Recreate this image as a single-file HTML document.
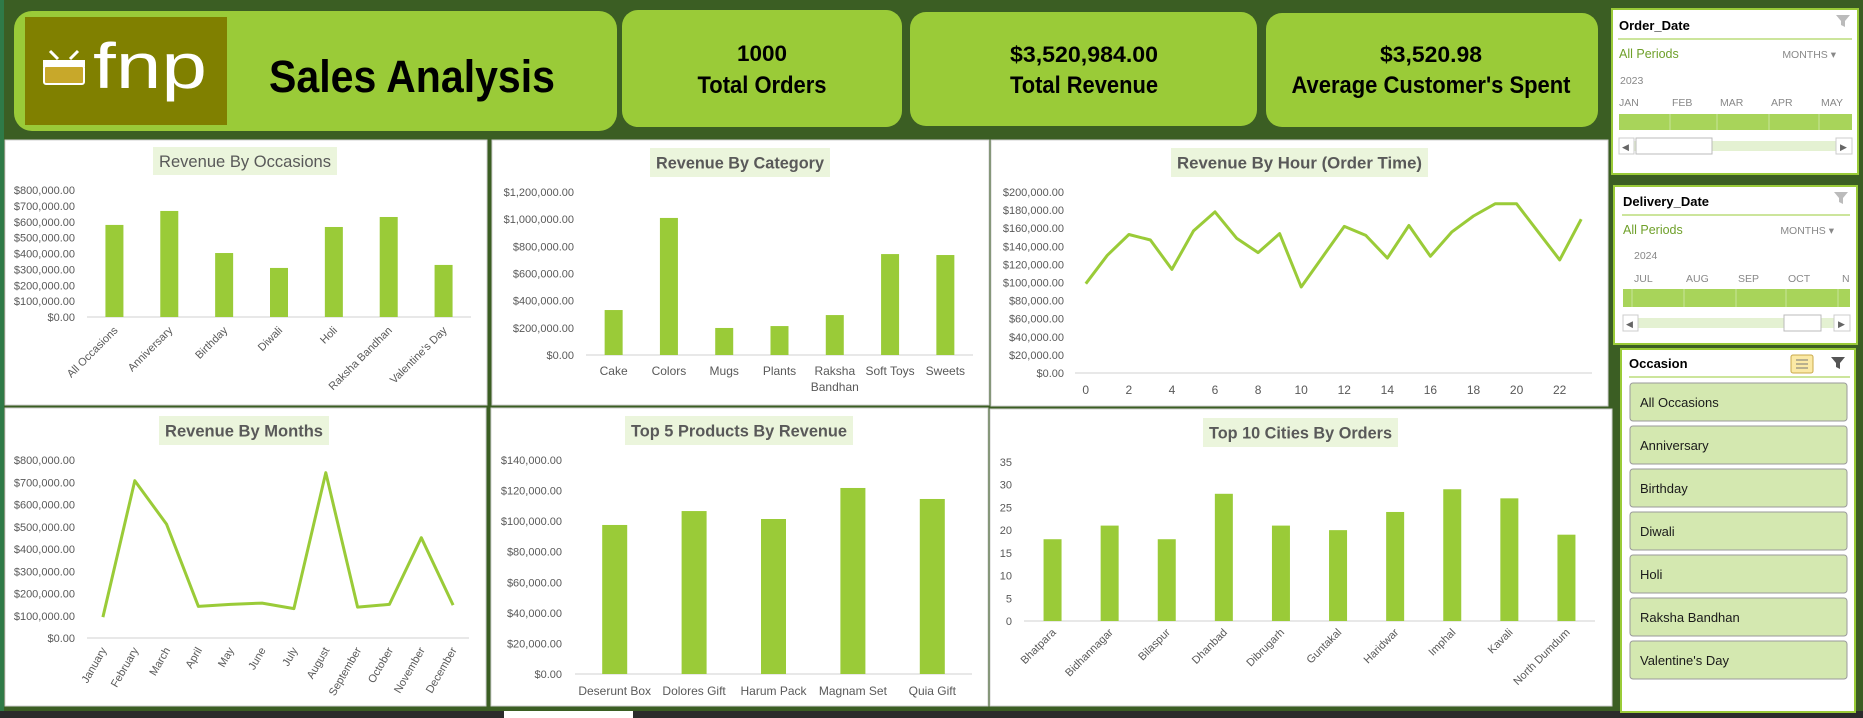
<!DOCTYPE html>
<html><head><meta charset="utf-8"><title>FNP Sales Analysis</title>
<style>
html,body{margin:0;padding:0;background:#3b5e23;}
svg{display:block;font-family:"Liberation Sans",sans-serif;}
</style></head>
<body>
<svg id="dash" width="1863" height="718" viewBox="0 0 1863 718" xmlns="http://www.w3.org/2000/svg">
<rect x="0" y="0" width="1863" height="718" fill="#3b5e23"/>
<rect x="0" y="0" width="4" height="718" fill="#2f7a47"/>
<rect x="0" y="711" width="1863" height="7" fill="#2b2b2b"/>
<rect x="504" y="711" width="129" height="7" fill="#ffffff"/>

<!-- header -->
<g>
<rect x="14" y="11" width="603" height="120" rx="18" fill="#9acb38"/>
<rect x="25" y="17" width="202" height="108" fill="#808000"/>
<g>
<rect x="44" y="66" width="40" height="18" rx="2" fill="#c8a82a" stroke="#fff" stroke-width="2"/>
<rect x="43" y="60" width="42" height="7" fill="#fff"/>
<path d="M58 59 L50 51 M70 59 L78 51" stroke="#fff" stroke-width="3" fill="none"/>
</g>
<text x="93" y="88" font-size="64" fill="#ffffff" textLength="114" lengthAdjust="spacingAndGlyphs">fnp</text>
<text x="269" y="92" font-size="45" font-weight="bold" fill="#000" textLength="286" lengthAdjust="spacingAndGlyphs">Sales Analysis</text>
</g>

<g>
<rect x="622" y="10" width="280" height="117" rx="16" fill="#9acb38"/>
<text x="762" y="61" font-size="22" font-weight="bold" text-anchor="middle" textLength="50" lengthAdjust="spacingAndGlyphs">1000</text>
<text x="762" y="93" font-size="24" font-weight="bold" text-anchor="middle" textLength="129" lengthAdjust="spacingAndGlyphs">Total Orders</text>
</g>
<g>
<rect x="910" y="12" width="347" height="114" rx="16" fill="#9acb38"/>
<text x="1084" y="62" font-size="22" font-weight="bold" text-anchor="middle" textLength="148" lengthAdjust="spacingAndGlyphs">$3,520,984.00</text>
<text x="1084" y="93" font-size="24" font-weight="bold" text-anchor="middle" textLength="148" lengthAdjust="spacingAndGlyphs">Total Revenue</text>
</g>
<g>
<rect x="1266" y="13" width="332" height="114" rx="16" fill="#9acb38"/>
<text x="1431" y="62" font-size="22" font-weight="bold" text-anchor="middle" textLength="102" lengthAdjust="spacingAndGlyphs">$3,520.98</text>
<text x="1431" y="93" font-size="24" font-weight="bold" text-anchor="middle" textLength="279" lengthAdjust="spacingAndGlyphs">Average Customer's  Spent</text>
</g>

<!-- slicers -->
<g>
<rect x="1612" y="9" width="246" height="165" fill="#fff" stroke="#9acb38" stroke-width="2"/>
<text x="1619" y="30" font-size="13" font-weight="bold">Order_Date</text>
<line x1="1618" y1="39" x2="1852" y2="39" stroke="#9acb38"/>
<path d="M1836 15 h14 l-5 6 v6 l-4 -2 v-4 z" fill="#bbb"/>
<text x="1619" y="58" font-size="12.5" fill="#6fa02a">All Periods</text>
<text x="1836" y="58" font-size="10.5" fill="#888" text-anchor="end">MONTHS ▾</text>
<text x="1620" y="84" font-size="10.5" fill="#888">2023</text>
<text x="1619" y="106" font-size="10.5" fill="#888">JAN</text><text x="1672" y="106" font-size="10.5" fill="#888">FEB</text><text x="1720" y="106" font-size="10.5" fill="#888">MAR</text><text x="1771" y="106" font-size="10.5" fill="#888">APR</text><text x="1821" y="106" font-size="10.5" fill="#888">MAY</text>
<rect x="1619" y="114" width="233" height="16" fill="#a8d45a"/>
<path d="M1670 114v16M1717 114v16M1769 114v16M1819 114v16" stroke="#c8e49a"/>
<rect x="1619" y="141" width="233" height="10" fill="#e4f1d2"/>
<rect x="1619" y="138" width="15" height="16" fill="#fff" stroke="#ccc"/><text x="1622" y="150" font-size="9" fill="#666">◀</text>
<rect x="1636" y="138" width="76" height="16" fill="#fff" stroke="#bbb"/>
<rect x="1836" y="138" width="16" height="16" fill="#fff" stroke="#ccc"/><text x="1840" y="150" font-size="9" fill="#666">▶</text>
</g>
<g>
<rect x="1614" y="186" width="243" height="158" fill="#fff" stroke="#9acb38" stroke-width="2"/>
<text x="1623" y="206" font-size="13" font-weight="bold">Delivery_Date</text>
<line x1="1622" y1="215" x2="1850" y2="215" stroke="#9acb38"/>
<path d="M1834 192 h14 l-5 6 v6 l-4 -2 v-4 z" fill="#bbb"/>
<text x="1623" y="234" font-size="12.5" fill="#6fa02a">All Periods</text>
<text x="1834" y="234" font-size="10.5" fill="#888" text-anchor="end">MONTHS ▾</text>
<text x="1634" y="259" font-size="10.5" fill="#888">2024</text>
<text x="1634" y="282" font-size="10.5" fill="#888">JUL</text><text x="1686" y="282" font-size="10.5" fill="#888">AUG</text><text x="1738" y="282" font-size="10.5" fill="#888">SEP</text><text x="1788" y="282" font-size="10.5" fill="#888">OCT</text><text x="1842" y="282" font-size="10.5" fill="#888">N</text>
<rect x="1623" y="289" width="227" height="18" fill="#a8d45a"/>
<path d="M1632 289v18M1684 289v18M1736 289v18M1786 289v18M1838 289v18" stroke="#c8e49a"/>
<rect x="1623" y="318" width="227" height="10" fill="#e4f1d2"/>
<rect x="1623" y="315" width="15" height="16" fill="#fff" stroke="#ccc"/><text x="1626" y="327" font-size="9" fill="#666">◀</text>
<rect x="1784" y="315" width="37" height="16" fill="#fff" stroke="#bbb"/>
<rect x="1834" y="315" width="16" height="16" fill="#fff" stroke="#ccc"/><text x="1838" y="327" font-size="9" fill="#666">▶</text>
</g>
<g id="occ-slicer">
<rect x="1621" y="349" width="234" height="363" fill="#fff" stroke="#9acb38" stroke-width="2"/>
<text x="1629" y="368" font-size="13" font-weight="bold">Occasion</text>
<line x1="1629" y1="377" x2="1850" y2="377" stroke="#9acb38"/>
<rect x="1791" y="355" width="22" height="18" rx="2" fill="#fbe9a5" stroke="#c9a94a"/>
<path d="M1796 360h12M1796 364h12M1796 368h12" stroke="#777"/>
<path d="M1831 357 h14 l-5 6 v6 l-4 -2 v-4 z" fill="#555"/>
</g>

<g id="charts"></g>
</svg>
<script>
// ---------- data ----------
const occCategories = ["All Occasions","Anniversary","Birthday","Diwali","Holi","Raksha Bandhan","Valentine's Day"];
const occValues = [580000,668000,403000,309000,567000,630000,328000];
const occTicks = [0,100000,200000,300000,400000,500000,600000,700000,800000];

const catCategories = ["Cake","Colors","Mugs","Plants","Raksha Bandhan","Soft Toys","Sweets"];
const catValues = [331000,1009000,199000,213000,294000,743000,736000];
const catTicks = [0,200000,400000,600000,800000,1000000,1200000];

const hourCategories = [0,1,2,3,4,5,6,7,8,9,10,11,12,13,14,15,16,17,18,19,20,21,22,23];
const hourValues = [98700,130000,153000,147000,114500,157000,178000,149000,133000,154000,95000,128500,162000,152000,127000,163000,129000,156000,173500,187000,187000,156000,125000,170000];
const hourTicks = [0,20000,40000,60000,80000,100000,120000,140000,160000,180000,200000];

const monthCategories = ["January","February","March","April","May","June","July","August","September","October","November","December"];
const monthValues = [94000,707000,511000,142000,151000,157000,132000,743000,139000,151000,451000,148000];
const monthTicks = [0,100000,200000,300000,400000,500000,600000,700000,800000];

const productCategories = ["Deserunt Box","Dolores Gift","Harum Pack","Magnam Set","Quia Gift"];
const productValues = [97500,106600,101400,121700,114500];
const productTicks = [0,20000,40000,60000,80000,100000,120000,140000];

const cityCategories = ["Bhatpara","Bidhannagar","Bilaspur","Dhanbad","Dibrugarh","Guntakal","Haridwar","Imphal","Kavali","North Dumdum"];
const cityValues = [18,21,18,28,21,20,24,29,27,19];
const cityTicks = [0,5,10,15,20,25,30,35];

const occasionItems = ["All Occasions","Anniversary","Birthday","Diwali","Holi","Raksha Bandhan","Valentine's Day"];

// ---------- helpers ----------
const NS = "http://www.w3.org/2000/svg";
const root = document.getElementById("charts");
function mk(parent, tag, attrs, txt){
  const e = document.createElementNS(NS, tag);
  for (const k in attrs) e.setAttribute(k, attrs[k]);
  if (txt !== undefined) e.textContent = txt;
  parent.appendChild(e);
  return e;
}
const money = v => "$" + v.toLocaleString("en-US",{minimumFractionDigits:2,maximumFractionDigits:2});
const GREEN = "#9acb38", GRAY = "#595959";

function chart(cfg){
  const g = mk(root, "g", {});
  
  
  const panel = mk(g, "rect", {x:cfg.box[0], y:cfg.box[1], width:cfg.box[2], height:cfg.box[3], fill:"#fff", stroke:"#d0d0d0"});
  
  
  const tb = mk(g, "rect", {x:cfg.tbox[0], y:cfg.tbox[1], width:cfg.tbox[2], height:cfg.tbox[3], fill:"#ebf5dc"});
  
  
  const tt = mk(g, "text", {x:cfg.tbox[0]+cfg.tbox[2]/2, y:cfg.tbox[1]+cfg.tbox[3]/2+6, "font-size":17, "font-weight":cfg.bold?"bold":"normal", fill:GRAY, "text-anchor":"middle", textLength:cfg.tbox[2]-12, lengthAdjust:"spacingAndGlyphs"}, cfg.title);
  
  
  const x0 = cfg.axis[0], x1 = cfg.axis[1], y0 = cfg.axis[2], yTop = cfg.axis[3];
  const ticks = cfg.ticks, yMax = ticks[ticks.length-1];
  const yScale = v => y0 - v / yMax * (y0 - yTop);
  const n = cfg.cats.length, band = (x1 - x0) / n;
  const xScale = i => x0 + band * (i + 0.5);
  ticks.forEach(t => {
    const lb = mk(g, "text", {x:cfg.labelX, y:yScale(t)+4, "font-size":11, fill:GRAY, "text-anchor":"end"}, cfg.fmt(t));
    
    
  });
  const ax = mk(g, "line", {x1:x0, x2:x1, y1:y0, y2:y0, stroke:"#d9d9d9", "stroke-width":1.2});
  
  
  if (cfg.type === "bar"){
    cfg.vals.forEach((v,i) => {
      const b = mk(g, "rect", {x:xScale(i)-cfg.bw/2, y:yScale(v), width:cfg.bw, height:y0-yScale(v), fill:GREEN});
      
      
    });
  } else {
    const pts = cfg.vals.map((v,i) => xScale(i).toFixed(1) + "," + yScale(v).toFixed(1)).join(" ");
    const pl = mk(g, "polyline", {points:pts, fill:"none", stroke:GREEN, "stroke-width":3, "stroke-linejoin":"round"});
    
    
  }
  cfg.cats.forEach((c,i) => {
    if (cfg.labelEvery && i % cfg.labelEvery) return;
    let t;
    if (cfg.rot){
      const lx = xScale(i)+4, ly = y0 + cfg.ldy;
      t = mk(g, "text", {x:lx, y:ly, "font-size":11, fill:GRAY, "text-anchor":"end", transform:"rotate("+cfg.rot+" "+lx+" "+ly+")"}, c);
    } else if (cfg.wrap && String(c).indexOf(" ")>0 && String(c).length>11){
      const parts = String(c).split(" ");
      t = mk(g, "text", {x:xScale(i), y:y0+cfg.ldy, "font-size":cfg.lfs||12, fill:GRAY, "text-anchor":"middle"});
      mk(t, "tspan", {x:xScale(i), dy:0}, parts[0]);
      mk(t, "tspan", {x:xScale(i), dy:16}, parts.slice(1).join(" "));
    } else {
      t = mk(g, "text", {x:xScale(i), y:y0+cfg.ldy, "font-size":cfg.lfs||12, fill:GRAY, "text-anchor":"middle"}, c);
    }
    
    
  });
}

chart({name:"revenue-by-occasions-chart", type:"bar", box:[5,140,482,265], tbox:[153,147,184,28], title:"Revenue By Occasions", bold:false,
  axis:[87,471,317,190], ticks:occTicks, fmt:money, labelX:75, cats:occCategories, vals:occValues, bw:18, rot:-45, ldy:14});
chart({name:"revenue-by-category-chart", type:"bar", box:[492,140,497,265], tbox:[650,148,180,29], title:"Revenue By Category", bold:true,
  axis:[586,973,355,192], ticks:catTicks, fmt:money, labelX:574, cats:catCategories, vals:catValues, bw:18, ldy:20, wrap:true});
chart({name:"revenue-by-hour-chart", type:"line", box:[991,140,617,266], tbox:[1171,148,257,29], title:"Revenue By Hour (Order Time)", bold:true,
  axis:[1075,1592,373,192], ticks:hourTicks, fmt:money, labelX:1064, cats:hourCategories, vals:hourValues, ldy:21, labelEvery:2});
chart({name:"revenue-by-months-chart", type:"line", box:[5,408,481,298], tbox:[159,416,170,29], title:"Revenue By Months", bold:true,
  axis:[87,469,638,460], ticks:monthTicks, fmt:money, labelX:75, cats:monthCategories, vals:monthValues, rot:-60, ldy:12});
chart({name:"top-5-products-chart", type:"bar", box:[491,408,497,298], tbox:[625,416,228,29], title:"Top 5 Products By Revenue", bold:true,
  axis:[575,972,674,460], ticks:productTicks, fmt:money, labelX:562, cats:productCategories, vals:productValues, bw:25, ldy:21});
chart({name:"top-10-cities-chart", type:"bar", box:[990,409,622,297], tbox:[1203,418,195,29], title:"Top 10 Cities By Orders", bold:true,
  axis:[1024,1595,621,462], ticks:cityTicks, fmt:v=>String(v), labelX:1012, cats:cityCategories, vals:cityValues, bw:18, rot:-45, ldy:12});

// occasion slicer items
const occ = document.getElementById("occ-slicer");
occasionItems.forEach((name,i) => {
  const y = 383 + i*43;
  const r = mk(occ, "rect", {x:1630, y:y, width:217, height:38, rx:3, fill:"#d4e8b0", stroke:"#9a9a9a"});
  
  
  const t = mk(occ, "text", {x:1640, y:y+24, "font-size":13, fill:"#1a1a1a"}, name);
  
  
});
</script>
</body></html>
